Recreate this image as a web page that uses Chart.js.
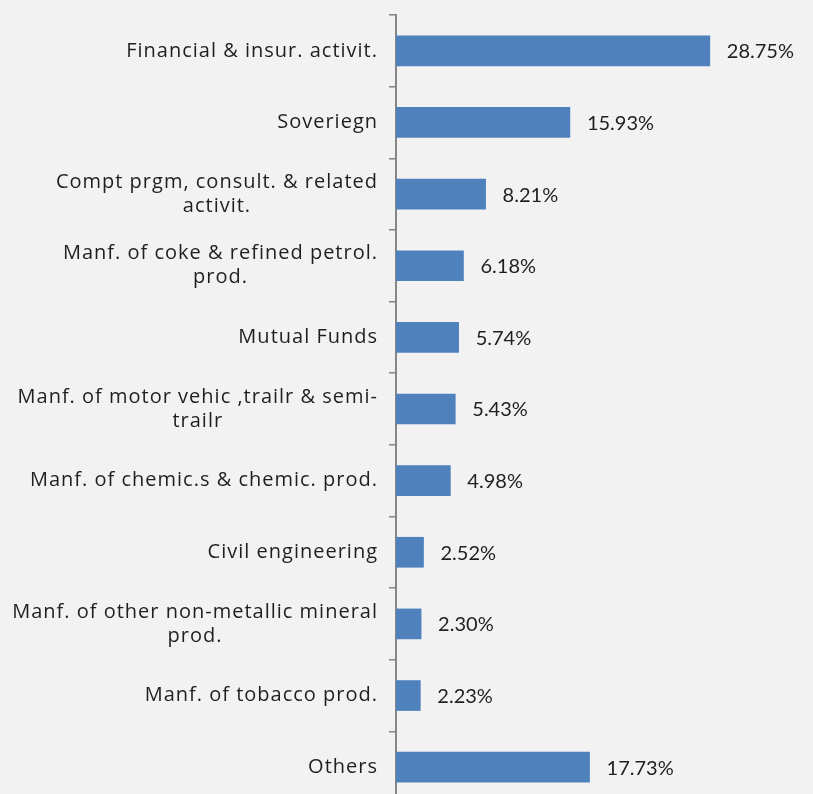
<!DOCTYPE html>
<html>
<head>
<meta charset="utf-8">
<script src="https://cdn.jsdelivr.net/npm/chart.js@4/dist/chart.umd.min.js"></script>
<style>
  html, body { margin: 0; padding: 0; background: #f2f2f2; overflow: hidden; }
  #wrap { width: 813px; height: 806px; }
</style>
</head>
<body>
<div id="wrap"><canvas id="sectors"></canvas></div>
<script>
// Sector breakdown, top to bottom
const sectorLabels = [
    ['Financial & insur. activit.'],
    ['Soveriegn'],
    ['Compt prgm, consult. & related', 'activit.'],
    ['Manf. of coke & refined petrol.', 'prod.'],
    ['Mutual Funds'],
    ['Manf. of motor vehic ,trailr & semi-', 'trailr'],
    ['Manf. of chemic.s & chemic. prod.'],
    ['Civil engineering'],
    ['Manf. of other non-metallic mineral', 'prod.'],
    ['Manf. of tobacco prod.'],
    ['Others'],
];
const sectorShares = [28.75, 15.93, 8.21, 6.18, 5.74, 5.43, 4.98, 2.52, 2.30, 2.23, 17.73];

const LABEL_FONT = '"Open Sans", sans-serif';
const VALUE_FONT = '"Lato", sans-serif';
const FONT_SIZE  = 20;
const TEXT       = '#1f1f1f';
const AXIS_W     = 396;   // left edge of the plot area

// Category labels: right-aligned blocks, lines centred inside each block
const categoryLabelPlugin = {
    id: 'categoryLabels',
    afterDraw(chart) {
        const { ctx } = chart;
        const yScale = chart.scales.y;
        const right  = AXIS_W - 19;
        const lineH  = 24;
        ctx.save();
        ctx.font = `${FONT_SIZE}px ${LABEL_FONT}`;
        ctx.letterSpacing = '1px';
        ctx.fillStyle = TEXT;
        ctx.textAlign = 'left';
        ctx.textBaseline = 'middle';
        sectorLabels.forEach((lines, i) => {
            const y  = yScale.getPixelForTick(i);
            // trailing spacing is not drawn, so drop it from the width
            const widths = lines.map(l => ctx.measureText(l).width - 1);
            const w  = Math.max(...widths);
            const cx = right - w / 2;
            const y0 = y - (lines.length - 1) * lineH / 2;
            lines.forEach((l, j) => ctx.fillText(l, cx - widths[j] / 2, y0 + j * lineH));
        });
        ctx.restore();
    },
};

// Percentage label just past the end of each bar
const valueLabelPlugin = {
    id: 'valueLabels',
    afterDatasetsDraw(chart) {
        const { ctx } = chart;
        const meta = chart.getDatasetMeta(0);
        ctx.save();
        ctx.font = `${FONT_SIZE}px ${VALUE_FONT}`;
        ctx.fillStyle = TEXT;
        ctx.textAlign = 'left';
        ctx.textBaseline = 'middle';
        meta.data.forEach((bar, i) => {
            ctx.fillText(sectorShares[i].toFixed(2) + '%', bar.x + 17, bar.y + 1);
        });
        ctx.restore();
    },
};

new Chart(document.getElementById('sectors'), {
    type: 'bar',
    data: {
        labels: sectorLabels,
        datasets: [{
            data:            sectorShares,
            backgroundColor: '#4f81bd',
            borderWidth:     0,
            barThickness:    30,
        }],
    },
    options: {
        indexAxis: 'y',
        responsive: true,
        maintainAspectRatio: false,
        animation: false,
        layout: { padding: { top: 15, right: 0, bottom: 3, left: 0 } },
        plugins: {
            legend:  { display: false },
            tooltip: { enabled: false },
        },
        scales: {
            x: {
                display: false,
                min: 0,
                max: 38.2,
            },
            y: {
                offset: true,
                ticks: { display: false },
                grid: {
                    offset: true,
                    drawOnChartArea: false,
                    drawTicks: true,
                    tickLength: 7,
                    color: '#868686',
                    lineWidth: 1.5,
                },
                border: { color: '#868686', width: 2 },
                afterFit(scale) { scale.width = AXIS_W; },
            },
        },
    },
    plugins: [categoryLabelPlugin, valueLabelPlugin],
});
</script>
</body>
</html>
